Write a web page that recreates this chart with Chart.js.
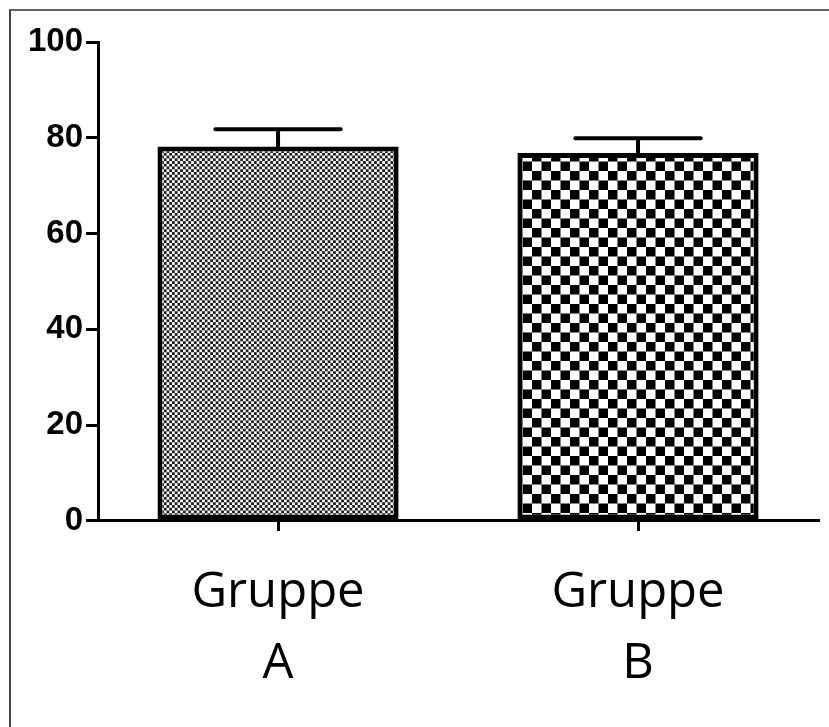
<!DOCTYPE html>
<html>
<head>
<meta charset="utf-8">
<script src="https://cdn.jsdelivr.net/npm/chart.js@4"></script>
<style>
  html, body { margin: 0; background: #fff; overflow: hidden; }
  #frame { position: absolute; left: 9px; top: 9px; width: 900px; height: 800px;
           border-left: 2px solid #444; border-top: 2px solid #666; }
  #wrap { position: absolute; left: 0; top: 0; width: 829px; height: 727px; }
</style>
</head>
<body>
<div id="frame"></div>
<div id="wrap"><canvas id="chart" width="829" height="727"></canvas></div>
<script>
const groups = [["Gruppe", "A"], ["Gruppe", "B"]];
const means = [78.2, 76.8];
const errors = [3.6, 3.1];
const yTicks = [0, 20, 40, 60, 80, 100];

// checkerboard fill for each bar
function checker(cell, scale, dark) {
  const c = document.createElement('canvas');
  c.width = c.height = cell * 2;
  const g = c.getContext('2d');
  g.fillStyle = '#fff';
  g.fillRect(0, 0, cell * 2, cell * 2);
  g.fillStyle = dark;
  g.fillRect(0, 0, cell, cell);
  g.fillRect(cell, cell, cell, cell);
  const p = document.getElementById('chart').getContext('2d').createPattern(c, 'repeat');
  p.setTransform(new DOMMatrix().scale(scale));
  return p;
}
const fills = [checker(3, 0.91, '#1a1a1a'), checker(10, 0.95, '#000')];

// error bars drawn on top of the bars
const errorBars = {
  id: 'errorBars',
  afterDatasetsDraw(chart) {
    const ctx = chart.ctx;
    const y = chart.scales.y;
    const meta = chart.getDatasetMeta(0);
    ctx.save();
    ctx.strokeStyle = '#000';
    ctx.lineWidth = 4;
    ctx.lineCap = 'round';
    meta.data.forEach((bar, i) => {
      const top = y.getPixelForValue(means[i] + errors[i]);
      const base = y.getPixelForValue(means[i]);
      const half = bar.width * 0.26;
      ctx.beginPath();
      ctx.moveTo(bar.x, base);
      ctx.lineTo(bar.x, top);
      ctx.moveTo(bar.x - half, top);
      ctx.lineTo(bar.x + half, top);
      ctx.stroke();
    });
    ctx.restore();
  }
};

new Chart(document.getElementById('chart'), {
  type: 'bar',
  data: {
    labels: groups,
    datasets: [{
      data: means,
      backgroundColor: fills,
      borderColor: '#000',
      borderWidth: 5,
      borderSkipped: false,
      categoryPercentage: 1,
      barPercentage: 0.67
    }]
  },
  options: {
    responsive: false,
    animation: false,
    layout: { padding: { top: 42, left: 25, right: 11, bottom: 0 } },
    plugins: { legend: { display: false }, tooltip: { enabled: false } },
    scales: {
      x: {
        grid: { display: true, drawOnChartArea: false, offset: false, color: '#000', lineWidth: 3, tickLength: 10 },
        border: { color: '#000', width: 3 },
        ticks: { color: '#000', padding: 27, font: { family: 'Open Sans', size: 49, lineHeight: 1.45 } }
      },
      y: {
        min: 0, max: 100,
        afterBuildTicks(scale) { scale.ticks = yTicks.map(v => ({ value: v })); },
        grid: { display: true, drawOnChartArea: false, color: '#000', lineWidth: 3, tickLength: 12 },
        border: { color: '#000', width: 3 },
        ticks: { color: '#000', padding: 3, font: { family: 'Liberation Sans', size: 33, weight: 'bold' } }
      }
    }
  },
  plugins: [errorBars]
});
</script>
</body>
</html>
